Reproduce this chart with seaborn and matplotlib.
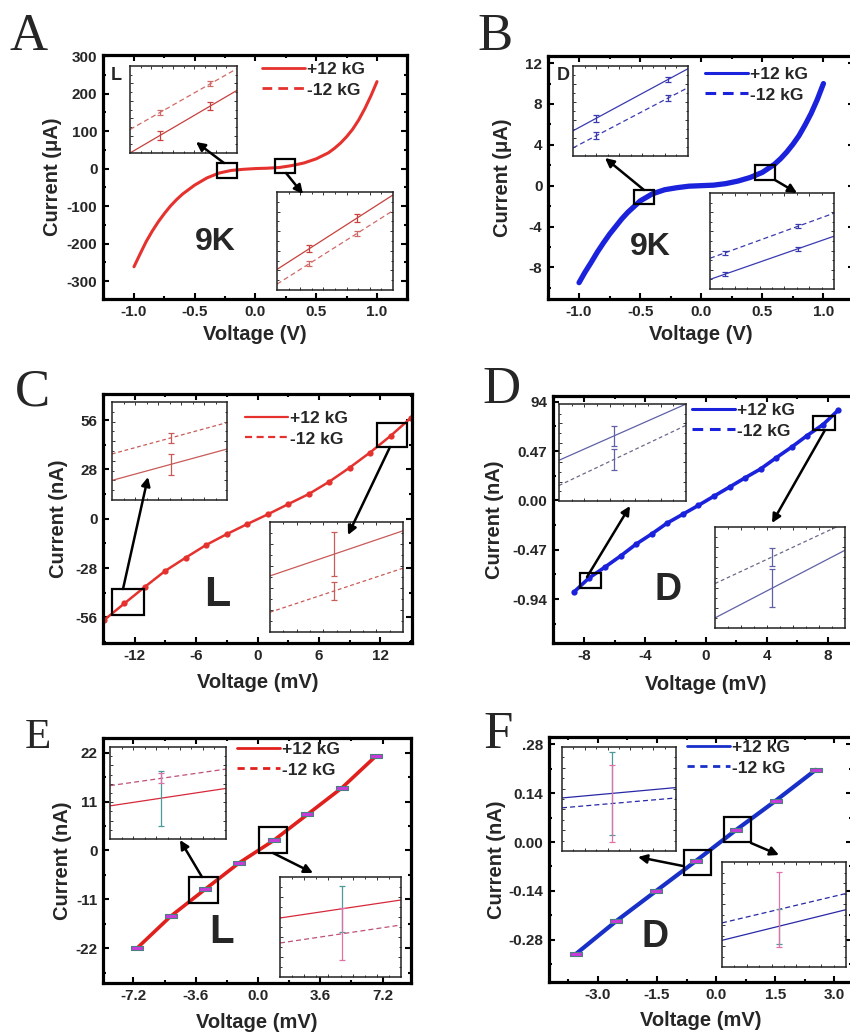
import numpy as np
import matplotlib
matplotlib.use("Agg")
import matplotlib.pyplot as plt
import seaborn as sns
from matplotlib.lines import Line2D
from matplotlib.patches import Rectangle, FancyArrowPatch
from matplotlib.ticker import AutoMinorLocator, FixedLocator

# ---------------- I-V data ----------------
# (A) L-sample, 9 K, wide sweep (V, uA)
volt_a = [-1.0, -0.95, -0.9, -0.85, -0.8, -0.75, -0.7, -0.65, -0.6, -0.5, -0.4,
          -0.3, -0.2, -0.1, 0.0, 0.1, 0.2, 0.3, 0.4, 0.5, 0.6, 0.65, 0.7, 0.75,
          0.8, 0.85, 0.9, 0.95, 1.0]
curr_a = [-262, -228, -195, -167, -142, -120, -100, -83, -68, -44, -25,
          -12, -5, -2, 0, 1, 3, 8, 15, 26, 42, 54, 68, 85,
          105, 130, 160, 194, 232]
# (B) D-sample, 9 K, wide sweep (V, uA)
volt_b = volt_a
curr_b = [-9.5, -8.45, -7.5, -6.5, -5.6, -4.75, -4.0, -3.25, -2.6, -1.5, -0.8,
          -0.4, -0.2, -0.05, 0.0, 0.05, 0.2, 0.45, 0.8, 1.3, 2.1, 2.65, 3.3, 4.05,
          4.9, 5.95, 7.1, 8.45, 10.0]
# (C) L-sample, mV sweep (mV, nA)
volt_c = [-15, -13, -11, -9, -7, -5, -3, -1, 1, 3, 5, 7, 9, 11, 13, 15]
curr_c = [-57.5, -48, -38.6, -29.5, -22, -14.8, -8.7, -3, 2.5, 8.3, 14, 21,
          29, 37.6, 47, 57.3]
# (D) D-sample, mV sweep (mV, nA)
volt_d = [-8.7, -7.7, -6.65, -5.6, -4.6, -3.55, -2.55, -1.5, -0.5, 0.5, 1.55,
          2.55, 3.6, 4.6, 5.65, 6.65, 7.7, 8.7]
curr_d = [-0.875, -0.74, -0.636, -0.528, -0.417, -0.318, -0.216, -0.13, -0.048,
          0.038, 0.127, 0.213, 0.30, 0.404, 0.509, 0.617, 0.722, 0.859]
# (E) L-sample, low bias (mV, nA)
volt_e = [-7.0, -5.05, -3.05, -1.1, 0.9, 2.85, 4.85, 6.8]
curr_e = [-22.0, -14.8, -8.7, -2.8, 2.25, 8.1, 14.1, 21.2]
# (F) D-sample, low bias (mV, nA)
volt_f = [-3.55, -2.54, -1.52, -0.51, 0.5, 1.52, 2.53]
curr_f = [-0.32, -0.227, -0.140, -0.054, 0.034, 0.119, 0.207]

# ---------------- magnified windows (normalised window units) ----------------
# each: +12 kG line ends, -12 kG line ends, bar positions, bar centres/half-heights
A1_plus, A1_minus = [0.00, 0.72], [0.27, 0.97]
A1_bar_x, A1_plus_c, A1_plus_h = [0.28, 0.75], [0.20, 0.54], [0.055, 0.05]
A1_minus_c, A1_minus_h = [0.466, 0.795], [0.03, 0.03]
A2_plus, A2_minus = [0.21, 0.97], [0.06, 0.81]
A2_bar_x, A2_plus_c, A2_plus_h = [0.28, 0.69], [0.423, 0.734], [0.04, 0.04]
A2_minus_c, A2_minus_h = [0.27, 0.578], [0.025, 0.025]

B1_plus, B1_minus = [0.28, 0.97], [0.09, 0.76]
B1_bar_x, B1_plus_c, B1_plus_h = [0.2, 0.83], [0.418, 0.853], [0.04, 0.03]
B1_minus_c, B1_minus_h = [0.224, 0.646], [0.04, 0.03]
B2_plus, B2_minus = [0.10, 0.55], [0.32, 0.79]
B2_bar_x, B2_plus_c, B2_plus_h = [0.12, 0.71], [0.154, 0.42], [0.02, 0.02]
B2_minus_c, B2_minus_h = [0.376, 0.654], [0.02, 0.02]

C1_plus, C1_minus = [0.20, 0.52], [0.47, 0.79]
C1_bar_x, C1_plus_c, C1_plus_h = [0.51], [0.363], [0.11]
C1_minus_c, C1_minus_h = [0.633], [0.05]
C2_plus, C2_minus = [0.51, 0.92], [0.18, 0.58]
C2_bar_x, C2_plus_c, C2_plus_h = [0.48], [0.707], [0.2]
C2_minus_c, C2_minus_h = [0.372], [0.08]

D1_plus, D1_minus = [0.42, 1.0], [0.16, 0.78]
D1_bar_x, D1_plus_c, D1_plus_h = [0.43], [0.67], [0.1]
D1_minus_c, D1_minus_h = [0.427], [0.11]
D2_plus, D2_minus = [0.10, 0.77], [0.44, 1.04]
D2_bar_x, D2_plus_c, D2_plus_h = [0.44], [0.395], [0.19]
D2_minus_c, D2_minus_h = [0.704], [0.09]

E1_plus, E1_minus = [0.36, 0.55], [0.58, 0.76]
E1_bar_x, E1_plus_c, E1_plus_h = [0.44], [0.444], [0.30]
E1_minus_c, E1_minus_h = [0.66], [0.055]
E2_plus, E2_minus = [0.59, 0.77], [0.34, 0.52]
E2_bar_x, E2_plus_c, E2_plus_h = [0.51], [0.68], [0.227]
E2_minus_c, E2_minus_h = [0.43], [0.26]

F1_plus, F1_minus = [0.51, 0.61], [0.415, 0.51]
F1_bar_x, F1_plus_c, F1_plus_h = [0.44], [0.554], [0.40]
F1_minus_c, F1_minus_h = [0.457], [0.367]
F2_plus, F2_minus = [0.254, 0.546], [0.42, 0.70]
F2_bar_x, F2_plus_c, F2_plus_h = [0.46], [0.388], [0.166]
F2_minus_c, F2_minus_h = [0.549], [0.357]

legend_labels = ["+12 kG", "-12 kG"]

# ---------------- styling ----------------
W, H, DPI = 850, 1033, 100
sns.set_theme(style="ticks")
plt.rcParams["font.family"] = ["Liberation Sans", "DejaVu Sans"]
plt.rcParams["font.weight"] = "bold"
plt.rcParams["axes.labelweight"] = "bold"

RED = "#e5322e"
BLUE = "#1a22dc"
TEAL = "#4a9a9a"
PINK = "#e070a8"
MAGENTA = "#c83adc"

fig = plt.figure(figsize=(W / DPI, H / DPI), dpi=DPI)
fig.patch.set_facecolor("white")


def fx(x):
    return x / W


def fy(y):
    return 1 - y / H


def rect_px(l, t, r, b):
    return [l / W, 1 - b / H, (r - l) / W, (b - t) / H]


def main_axes(box, xlim, ylim, xticks, xlabels, yticks, ylabels, xlabel, ylabel,
              ylab_x, xlab_y):
    ax = fig.add_axes(rect_px(*box))
    ax.set_xlim(*xlim)
    ax.set_ylim(*ylim)
    ax.set_xticks(xticks)
    ax.set_xticklabels(xlabels)
    ax.set_yticks(yticks)
    ax.set_yticklabels(ylabels)
    ax.xaxis.set_minor_locator(AutoMinorLocator(2))
    ax.yaxis.set_minor_locator(AutoMinorLocator(2))
    ax.tick_params(which="both", direction="in", top=True, right=True,
                   width=1.5, color="black")
    ax.tick_params(which="major", length=4, labelsize=11, pad=4)
    ax.tick_params(which="minor", length=2.5)
    for lab in ax.get_xticklabels() + ax.get_yticklabels():
        lab.set_fontweight("bold")
    for s in ax.spines.values():
        s.set_linewidth(2.3)
        s.set_color("black")
    ax.set_xlabel(xlabel, fontsize=14.5, fontweight="bold")
    ax.set_ylabel(ylabel, fontsize=14.5, fontweight="bold")
    ax.xaxis.label.set_va("center")
    ax.yaxis.label.set_va("center")
    bx0, bw, bh = box[0], box[2] - box[0], box[3] - box[1]
    ax.yaxis.set_label_coords((ylab_x - bx0) / bw, 0.5)
    ax.xaxis.set_label_coords(0.5, -(xlab_y - box[3]) / bh)
    ax.grid(False)
    return ax


def zoom_window(box, plus, minus, bar_x, plus_c, plus_h, minus_c, minus_h,
                col, dash_col, plus_bar_col, minus_bar_col, dash):
    ax = fig.add_axes(rect_px(*box))
    ax.plot([0, 1], plus, color=col, lw=0.9)
    ax.plot([0, 1], minus, color=dash_col, lw=0.9, ls=(0, dash))
    ax.errorbar(bar_x, plus_c, yerr=plus_h, fmt="none", ecolor=plus_bar_col,
                elinewidth=0.9, capsize=2.2, capthick=0.9)
    ax.errorbar(bar_x, minus_c, yerr=minus_h, fmt="none", ecolor=minus_bar_col,
                elinewidth=0.9, capsize=2.2, capthick=0.9)
    ax.set_xlim(0, 1)
    ax.set_ylim(0, 1)
    ax.xaxis.set_major_locator(FixedLocator([0.2, 0.4, 0.6, 0.8]))
    ax.yaxis.set_major_locator(FixedLocator([0.2, 0.4, 0.6, 0.8]))
    ax.xaxis.set_minor_locator(FixedLocator([0.1, 0.3, 0.5, 0.7, 0.9]))
    ax.yaxis.set_minor_locator(FixedLocator([0.1, 0.3, 0.5, 0.7, 0.9]))
    ax.tick_params(which="both", direction="in", top=True, right=True,
                   labelbottom=False, labelleft=False, width=0.7, color="#333333")
    ax.tick_params(which="major", length=2.5)
    ax.tick_params(which="minor", length=1.5)
    for s in ax.spines.values():
        s.set_linewidth(1.1)
        s.set_color("#222222")
    ax.set_facecolor("white")
    ax.grid(False)
    return ax


def zoom_box(l, t, r, b):
    fig.add_artist(Rectangle((fx(l), fy(b)), (r - l) / W, (b - t) / H,
                             transform=fig.transFigure, fill=False,
                             ec="black", lw=1.6, zorder=5))


def arrow(x0, y0, x1, y1):
    fig.add_artist(FancyArrowPatch((fx(x0), fy(y0)), (fx(x1), fy(y1)),
                                   transform=fig.transFigure, arrowstyle="-|>",
                                   mutation_scale=13, lw=1.8, color="black",
                                   shrinkA=0, shrinkB=0, zorder=6))


def legend(ax, col, lw, dash, x, y):
    handles = [Line2D([], [], color=col, lw=lw, ls="-"),
               Line2D([], [], color=col, lw=lw, ls=(0, dash))]
    leg = ax.legend(handles, legend_labels, loc="upper left",
                    bbox_to_anchor=(fx(x), fy(y)), bbox_transform=fig.transFigure,
                    frameon=False, borderpad=0, borderaxespad=0, handlelength=2.5,
                    handletextpad=0.1, labelspacing=0.3,
                    prop={"weight": "bold", "size": 12.5})
    return leg


def ftext(x, y, s, size, **kw):
    fig.text(fx(x), fy(y), s, fontsize=size, fontweight="bold", **kw)


def panel_letter(x, y, s, size=38):
    fig.text(fx(x), fy(y), s, fontsize=size, family="Liberation Serif",
             fontweight="normal", ha="left", va="baseline")


# ---------------- (A) ----------------
axA = main_axes((103, 55, 407, 299), (-1.255, 1.247), (-348, 303),
                [-1.0, -0.5, 0.0, 0.5, 1.0], ["-1.0", "-0.5", "0.0", "0.5", "1.0"],
                [-300, -200, -100, 0, 100, 200, 300],
                ["-300", "-200", "-100", "0", "100", "200", "300"],
                "Voltage (V)", "Current (\u03bcA)", 53, 335)
sns.lineplot(x=volt_a, y=curr_a, ax=axA, color=RED, lw=2.2, sort=True)
legend(axA, RED, 2.0, (3.5, 2.2), 262, 62)
ftext(111, 75, "L", 13, ha="left", va="center")
ftext(215, 242, "9K", 23, ha="center", va="center")
zoom_window((130, 66, 237, 153), A1_plus, A1_minus, A1_bar_x, A1_plus_c, A1_plus_h,
            A1_minus_c, A1_minus_h, "#c8403c", "#d06a66", "#c8403c", "#d06a66", (4, 2.5))
zoom_window((277, 192, 393, 290), A2_plus, A2_minus, A2_bar_x, A2_plus_c, A2_plus_h,
            A2_minus_c, A2_minus_h, "#c8403c", "#d06a66", "#c8403c", "#d06a66", (4, 2.5))
zoom_box(217, 163, 237, 178)
zoom_box(275, 159, 295, 173)
arrow(224, 163, 196, 142)
arrow(286, 173, 303, 194)
panel_letter(10, 50, "A")

# ---------------- (B) ----------------
axB = main_axes((548, 56, 854, 299), (-1.254, 1.25), (-11.1, 12.7),
                [-1.0, -0.5, 0.0, 0.5, 1.0], ["-1.0", "-0.5", "0.0", "0.5", "1.0"],
                [-8, -4, 0, 4, 8, 12], ["-8", "-4", "0", "4", "8", "12"],
                "Voltage (V)", "Current (\u03bcA)", 502, 335)
sns.lineplot(x=volt_b, y=curr_b, ax=axB, color=BLUE, lw=3.8, sort=True)
legend(axB, BLUE, 2.2, (3.5, 2.2), 705, 67)
ftext(557, 75, "D", 13, ha="left", va="center")
ftext(650, 247, "9K", 23, ha="center", va="center")
zoom_window((573, 66, 688, 156), B1_plus, B1_minus, B1_bar_x, B1_plus_c, B1_plus_h,
            B1_minus_c, B1_minus_h, "#3a3ab0", "#3a3ab0", "#3a3ab0", "#3a3ab0", (4, 2.5))
zoom_window((710, 193, 834, 289), B2_plus, B2_minus, B2_bar_x, B2_plus_c, B2_plus_h,
            B2_minus_c, B2_minus_h, "#3a3ab0", "#3a3ab0", "#3a3ab0", "#3a3ab0", (4, 2.5))
zoom_box(634, 190, 654, 204)
zoom_box(755, 165, 775, 180)
arrow(644, 190, 605, 158)
arrow(775, 180, 797, 193)
panel_letter(477, 50, "B")

# ---------------- (C) ----------------
axC = main_axes((103, 394, 412, 643), (-15.1, 15.1), (-70.5, 70.8),
                [-12, -6, 0, 6, 12], ["-12", "-6", "0", "6", "12"],
                [-56, -28, 0, 28, 56], ["-56", "-28", "0", "28", "56"],
                "Voltage (mV)", "Current (nA)", 58, 683)
sns.lineplot(x=volt_c, y=curr_c, ax=axC, color=RED, lw=1.8, marker="o",
             markersize=4.5, markeredgewidth=0, sort=True)
legend(axC, RED, 1.6, (3.2, 2.0), 245, 411)
ftext(217, 595, "L", 31, ha="center", va="center")
zoom_window((112, 402, 227, 500), C1_plus, C1_minus, C1_bar_x, C1_plus_c, C1_plus_h,
            C1_minus_c, C1_minus_h, "#c85a58", "#c85a58", "#c85a58", "#c85a58", (3, 2.2))
zoom_window((270, 522, 403, 632), C2_plus, C2_minus, C2_bar_x, C2_plus_c, C2_plus_h,
            C2_minus_c, C2_minus_h, "#c85a58", "#c85a58", "#c85a58", "#c85a58", (3, 2.2))
zoom_box(112, 589, 144, 615)
zoom_box(377, 423, 407, 447)
arrow(123, 589, 148, 477)
arrow(390, 447, 348, 535)
panel_letter(15, 405, "C")

# ---------------- (D) ----------------
axD = main_axes((553, 396, 858, 643), (-10.06, 10.0), (-1.358, 0.994),
                [-8, -4, 0, 4, 8], ["-8", "-4", "0", "4", "8"],
                [-0.94, -0.47, 0.0, 0.47, 0.94], ["-0.94", "-0.47", "0.00", "0.47", "94"],
                "Voltage (mV)", "Current (nA)", 495, 685)
sns.lineplot(x=volt_d, y=curr_d, ax=axD, color=BLUE, lw=2.6, marker="o",
             markersize=4.5, markeredgewidth=0, sort=True)
legend(axD, BLUE, 2.2, (3.5, 2.2), 692, 403)
ftext(668, 590, "D", 27, ha="center", va="center")
zoom_window((559, 404, 686, 501), D1_plus, D1_minus, D1_bar_x, D1_plus_c, D1_plus_h,
            D1_minus_c, D1_minus_h, "#6060a8", "#6a6a8a", "#6060a8", "#6060a8", (3, 2.2))
zoom_window((715, 527, 845, 628), D2_plus, D2_minus, D2_bar_x, D2_plus_c, D2_plus_h,
            D2_minus_c, D2_minus_h, "#6060a8", "#6a6a8a", "#6060a8", "#6060a8", (3, 2.2))
zoom_box(580, 573, 601, 588)
zoom_box(813, 416, 835, 430)
arrow(587, 577, 630, 506)
arrow(825, 430, 772, 523)
panel_letter(482, 403, "D")

# ---------------- (E) ----------------
bar_marker = [(-1, -0.36), (1, -0.36), (1, 0.36), (-1, 0.36), (-1, -0.36)]
axE = main_axes((103, 738, 411, 983), (-8.96, 8.84), (-29.8, 25.3),
                [-7.2, -3.6, 0.0, 3.6, 7.2], ["-7.2", "-3.6", "0.0", "3.6", "7.2"],
                [-22, -11, 0, 11, 22], ["-22", "-11", "0", "11", "22"],
                "Voltage (mV)", "Current (nA)", 63, 1023)
sns.lineplot(x=volt_e, y=curr_e, ax=axE, color="#e0201c", lw=2.6, sort=True)
sns.scatterplot(x=volt_e, y=curr_e, ax=axE, marker=bar_marker, s=85,
                color=MAGENTA, edgecolor="#4a8080", linewidth=0.8, zorder=4)
legend(axE, "#e0201c", 2.0, (2.6, 2.0), 237, 742)
ftext(222, 932, "L", 29, ha="center", va="center")
zoom_window((110, 747, 226, 839), E1_plus, E1_minus, E1_bar_x, E1_plus_c, E1_plus_h,
            E1_minus_c, E1_minus_h, "#d8283a", "#c05078", TEAL, PINK, (4, 2.5))
zoom_window((280, 877, 401, 977), E2_plus, E2_minus, E2_bar_x, E2_plus_c, E2_plus_h,
            E2_minus_c, E2_minus_h, "#d8283a", "#c05078", TEAL, PINK, (4, 2.5))
zoom_box(189, 877, 218, 903)
zoom_box(259, 827, 287, 853)
arrow(202, 877, 180, 840)
arrow(273, 853, 313, 873)
panel_letter(25, 748, "E", 31)

# ---------------- (F) ----------------
axF = main_axes((549, 737, 852, 982), (-4.24, 3.45), (-0.401, 0.301),
                [-3.0, -1.5, 0.0, 1.5, 3.0], ["-3.0", "-1.5", "0.0", "1.5", "3.0"],
                [-0.28, -0.14, 0.0, 0.14, 0.28], ["-0.28", "-0.14", "0.00", "0.14", ".28"],
                "Voltage (mV)", "Current (nA)", 497, 1020)
sns.lineplot(x=volt_f, y=curr_f, ax=axF, color="#1830c8", lw=3.0, sort=True)
sns.scatterplot(x=volt_f, y=curr_f, ax=axF, marker=bar_marker, s=85,
                color=MAGENTA, edgecolor="#4a8080", linewidth=0.8, zorder=4)
legend(axF, "#1830c8", 2.0, (2.6, 2.0), 687, 740)
ftext(655, 937, "D", 27, ha="center", va="center")
zoom_window((562, 747, 676, 851), F1_plus, F1_minus, F1_bar_x, F1_plus_c, F1_plus_h,
            F1_minus_c, F1_minus_h, "#2828a8", "#2828a8", TEAL, PINK, (4, 2.5))
zoom_window((722, 862, 846, 967), F2_plus, F2_minus, F2_bar_x, F2_plus_c, F2_plus_h,
            F2_minus_c, F2_minus_h, "#2828a8", "#2828a8", TEAL, PINK, (4, 2.5))
zoom_box(684, 850, 711, 875)
zoom_box(724, 817, 751, 842)
arrow(683, 866, 638, 857)
arrow(751, 843, 779, 855)
panel_letter(483, 748, "F")

fig.savefig("out.png", dpi=DPI, facecolor="white")
